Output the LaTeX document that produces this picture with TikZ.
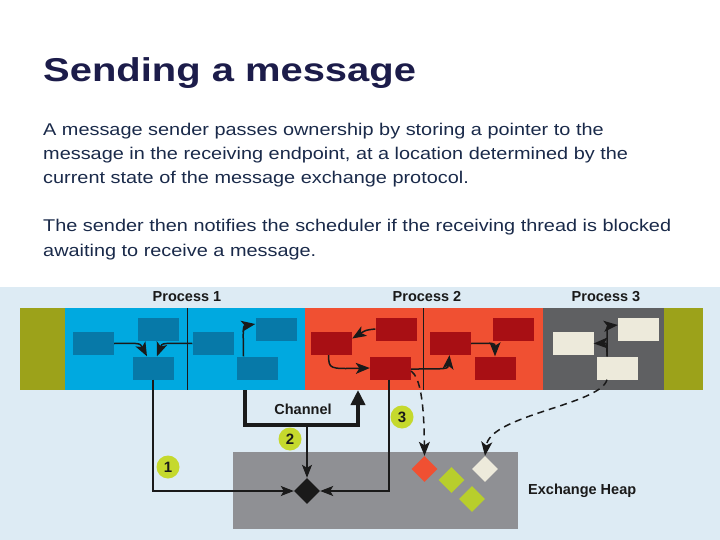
\documentclass[tikz,border=0pt]{standalone}
\usepackage{fontspec}
\setmainfont{Liberation Sans}
\usetikzlibrary{arrows.meta,shapes.geometric}
\definecolor{bgblue}{HTML}{DDEBF4}
\definecolor{titlec}{HTML}{1C1C4A}
\definecolor{bodyc}{HTML}{1A2A4A}
\definecolor{pblue}{HTML}{00A9E0}
\definecolor{iblue}{HTML}{0779A8}
\definecolor{pred}{HTML}{F05032}
\definecolor{ired}{HTML}{A80F14}
\definecolor{pgray}{HTML}{5F6062}
\definecolor{icream}{HTML}{EDEADB}
\definecolor{pgreen}{HTML}{9CA21A}
\definecolor{lgreen}{HTML}{B8CE2C}
\definecolor{cgreen}{HTML}{C5D92D}
\definecolor{heapc}{HTML}{8F9094}
\definecolor{inkc}{HTML}{1A1A1A}
\tikzset{
  box/.style={minimum width=41pt,minimum height=23pt,inner sep=0pt,draw=none},
  brect/.style={box,fill=iblue},
  rrect/.style={box,fill=ired},
  crect/.style={box,fill=icream},
  arr/.style={-{Stealth[length=14pt,width=11pt,inset=3.5pt]},line width=1.5pt,draw=inkc},
  thinarr/.style={-{Stealth[length=13pt,width=10pt,inset=3pt]},line width=1.2pt,draw=inkc},
  dasharr/.style={arr,dash pattern=on 7pt off 5pt},
  gem/.style={diamond,minimum width=26pt,minimum height=26pt,inner sep=0pt},
  numc/.style={circle,fill=cgreen,minimum size=23pt,inner sep=0pt,font=\fontsize{15}{15}\selectfont\bfseries,text=inkc},
  lab/.style={inner sep=0pt,font=\fontsize{14.5}{15}\selectfont\bfseries,text=inkc},
  bodyline/.style={anchor=base west,inner sep=0pt,text=bodyc,font=\fontsize{17}{20}\selectfont}
}
\newcommand{\wide}[1]{\scalebox{1.17}[1]{#1}}
\begin{document}
\begin{tikzpicture}[x=1pt,y=-1pt]
\path[use as bounding box] (0,0) rectangle (720,540);
\fill[white] (0,0) rectangle (720,287);
\fill[bgblue] (0,287) rectangle (720,540);
% title and text
\node[anchor=base west,inner sep=0pt,text=titlec,font=\fontsize{33}{40}\selectfont\bfseries] (title) at (43,82) {\scalebox{1.21}[1]{Sending a message}};
\node[bodyline] (t1) at (43,136) {\wide{A message sender passes ownership by storing a pointer to the}};
\node[bodyline] (t2) at (43,160) {\wide{message in the receiving endpoint, at a location determined by the}};
\node[bodyline] (t3) at (43,184) {\wide{current state of the message exchange protocol.}};
\node[bodyline] (t4) at (43,232) {\wide{The sender then notifies the scheduler if the receiving thread is blocked}};
\node[bodyline] (t5) at (43,256) {\wide{awaiting to receive a message.}};
% bands
\fill[pgreen] (20,308) rectangle (65,390);
\fill[pblue] (65,308) rectangle (305,390);
\fill[pred] (305,308) rectangle (543,390);
\fill[pgray] (543,308) rectangle (664,390);
\fill[pgreen] (664,308) rectangle (703,390);
\draw[inkc,line width=1pt] (187.5,308) -- (187.5,390);
\draw[inkc,line width=1pt] (423,308) -- (423,390);
\node[lab] (p1) at (187,297) {Process 1};
\node[lab] (p2) at (427,297) {Process 2};
\node[lab] (p3) at (606,297) {Process 3};
% heap
\fill[heapc] (233,452) rectangle (518,529);
\node[lab,anchor=west] (heap) at (528,491) {Exchange Heap};
% inner rects
\node[brect] (b1) at (93.5,343.5) {};
\node[brect] (b2) at (158.5,329) {};
\node[brect] (b3) at (153,368) {};
\node[brect] (b4) at (213,343.5) {};
\node[brect] (b5) at (276,329) {};
\node[brect] (b6) at (257.5,368) {};
\node[rrect] (r1) at (331.5,343.5) {};
\node[rrect] (r2) at (396,329) {};
\node[rrect] (r3) at (390.5,368) {};
\node[rrect] (r4) at (450.5,343.5) {};
\node[rrect] (r5) at (513.5,329) {};
\node[rrect] (r6) at (495,368) {};
\node[crect] (g1) at (573,343.5) {};
\node[crect] (g2) at (638.5,329) {};
\node[crect] (g3) at (617,368) {};
% diamonds
\node[gem,fill=inkc] (bd) at (307,491) {};
\node[gem,fill=pred] (rd) at (424.5,469) {};
\node[gem,fill=lgreen] (gd1) at (451.5,480) {};
\node[gem,fill=lgreen] (gd2) at (472,499) {};
\node[gem,fill=icream] (cd) at (485,469) {};
% arrows inside bands
\draw[arr] (b1.east) .. controls (140,343) .. ([xshift=-6pt]b3.north);
\draw[arr] (b4.west) .. controls (162,343) .. ([xshift=4pt]b3.north);
\draw[arr] ([xshift=-14pt]b6.north) .. controls (243,326) .. ([yshift=5pt]b5.west);
\draw[arr] (r2.west) .. controls (366,330) .. ([yshift=5pt]r1.east);
\draw[arr] ([xshift=-3pt]r1.south) .. controls (329,369) .. (r3.west);
\draw[arr] ([yshift=-1pt]r3.east) .. controls (448,369) .. ([xshift=-1pt]r4.south);
\draw[arr] (r4.east) .. controls (495,343) .. (r6.north);
\draw[arr] ([xshift=-10pt]g3.north) .. controls (607,343) .. (g1.east);
\draw[arr] ([xshift=-10pt]g3.north) .. controls (607,326) .. ([yshift=4pt]g2.west);
% dashed
\draw[dasharr] ([xshift=-10pt]g3.south) .. controls (600,405) and (490,415) .. (cd.north);
\draw[dasharr] ([yshift=-3pt]r3.east) .. controls (420,378) and (424,400) .. (rd.north);
% solid to black diamond
\draw[thinarr] (b3.south) |- (bd.west);
\draw[thinarr] ([xshift=-1.5pt]r3.south) |- (bd.east);
% channel
\coordinate (cha) at (245,390);
\coordinate (chb) at (245,425);
\coordinate (chc) at (358,425);
\coordinate (chd) at (358,390);
\coordinate (chm) at (307,425);
\draw[line width=4pt,draw=inkc,-{Triangle[length=15pt,width=14pt]}] (cha) -- (chb) -- (chc) -- (chd);
\draw[thinarr] (chm) -- (bd.north);
\node[lab] (chl) at (303,409) {Channel};
% numbers
\node[numc] (n1) at (168,467) {1};
\node[numc] (n2) at (290,439) {2};
\node[numc] (n3) at (402,417) {3};
\end{tikzpicture}
\end{document}
